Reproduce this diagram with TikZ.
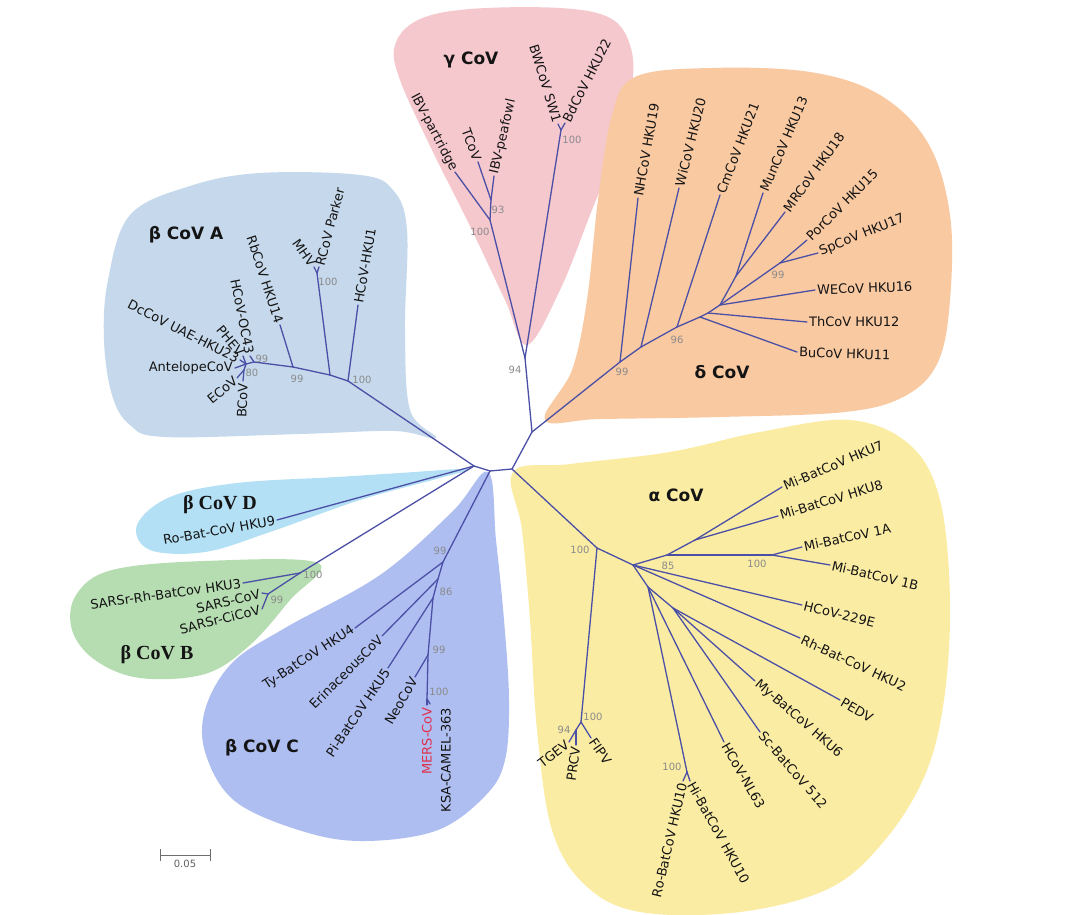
\documentclass[tikz,border=0pt]{standalone}
\usepackage{fontspec}
\setmainfont{DejaVu Sans}
\newfontfamily\serifbold{Liberation Serif}
\usepackage{tikz}
\usetikzlibrary{positioning}
\usetikzlibrary{calc}

\definecolor{fillA}{HTML}{C6D9EC}
\definecolor{fillB}{HTML}{B6DDB1}
\definecolor{fillC}{HTML}{AFBEF1}
\definecolor{fillD}{HTML}{B3E0F5}
\definecolor{fillG}{HTML}{F5C8CE}
\definecolor{fillDelta}{HTML}{F9C9A1}
\definecolor{fillAlpha}{HTML}{FBECA4}
\definecolor{tree}{HTML}{4B50A6}
\definecolor{ink}{HTML}{141414}
\definecolor{bootgray}{HTML}{8A8A8A}
\definecolor{mers}{HTML}{E0304A}

\tikzset{
  treeline/.style={draw=tree, line width=1.3pt, line cap=round},
  leaflabel/.style={inner sep=2pt, text=ink, font=\fontsize{13}{14}\selectfont},
  bootval/.style={inner sep=0pt, text=bootgray, font=\fontsize{10}{11}\selectfont},
  cladename/.style={inner sep=0pt, text=ink, font=\bfseries\fontsize{17}{19}\selectfont},
}

\begin{document}
\begin{tikzpicture}[x=1pt, y=-1pt]
    \useasboundingbox (0,0) rectangle (1080,915);
    \fill[white] (0,0) rectangle (1080,915);

    % clade backgrounds
    \fill[fillA] plot[smooth cycle, tension=0.6] coordinates {(436,438) (410,410) (405,330) (407,230) (393,190) (360,175) (260,173) (190,186) (130,215) (108,280) (104,340) (112,395) (130,425) (165,437) (300,434) (395,431)};
    \fill[fillG] plot[smooth cycle, tension=0.6] coordinates {(527,345) (505,300) (468,222) (432,150) (400,80) (395,45) (418,20) (470,9) (560,8) (610,18) (630,45) (632,85) (615,150) (590,215) (560,290)};
    \fill[fillDelta] plot[smooth cycle, tension=0.6] coordinates {(545,420) (572,370) (587,300) (598,200) (612,115) (635,77) (710,68) (810,72) (880,95) (928,143) (950,215) (950,300) (938,362) (905,396) (845,412) (720,417) (600,419)};
    \fill[fillAlpha] plot[smooth cycle, tension=0.6] coordinates {(513,472) (570,464) (670,452) (760,432) (850,420) (910,445) (940,500) (950,600) (944,700) (925,775) (885,840) (830,888) (740,912) (640,912) (585,885) (552,830) (537,730) (530,620) (522,530)};
    \fill[fillD] plot[smooth cycle, tension=0.6] coordinates {(468,469) (400,473) (337,477) (237,483) (170,497) (137,525) (150,550) (205,552) (270,532) (360,500) (440,478)};
    \fill[fillB] plot[smooth cycle, tension=0.6] coordinates {(318,563) (290,600) (250,645) (205,674) (140,678) (95,660) (72,630) (76,595) (112,570) (205,561)};
    \fill[fillC] plot[smooth cycle, tension=0.6] coordinates {(488,472) (496,540) (504,620) (509,700) (505,760) (486,795) (438,830) (366,841) (305,832) (236,802) (206,755) (205,710) (232,663) (285,628) (380,575) (452,512)};

    % inner nodes of the tree
    \foreach \n/\x/\y in {P1/474/466, P2/490/471, P3/512/469, Q/532/432,
        Gm/525/358, G1/490/220, G2/491/200, G3/561/130,
        D1/620/362, D2/641/347, D3/677/327, D4/700/317, D5/708/313, D6/720/305, D7/736/276, D9/780/263,
        Al1/597/548, Al2/581/722, Al3/576/730, Al4/633/565, Al5/667/555, Al5b/695/540, Al5c/772/555,
        Al7/648/587, Al8/687/772, Al9/673/608,
        C1/443/562, Ce/438/579, C2/433/598, C3/428/655, C4/427/699,
        B1/300/573, B2/268/594,
        A1/348/381, A2/330/375, A2b/317/273, A3/293/367, A4/254/362, A5/246/364, A6/244/370}
        \coordinate (\n) at (\x,\y);

    \foreach \a/\b in {P1/P2, P2/P3, P3/Q, Q/Gm, Gm/G1, G1/G2, Gm/G3,
        Q/D1, D1/D2, D2/D3, D3/D4, D4/D5, D5/D6, D6/D7, D6/D9,
        P3/Al1, Al1/Al2, Al2/Al3, Al1/Al4, Al4/Al5, Al5/Al5b, Al5/Al5c, Al4/Al7, Al7/Al8, Al7/Al9,
        P2/C1, C1/Ce, Ce/C2, C2/C3, C3/C4,
        P1/B1, B1/B2,
        P1/A1, A1/A2, A2/A2b, A2/A3, A3/A4, A4/A5, A5/A6}
        \draw[treeline] (\a) -- (\b);

    % leaves
    \foreach \p/\n/\x/\y/\a/\s/\t in {
        G1/lIBVpa/455/172/-62/east/IBV-partridge,
        G2/lTCoV/478/162/-70/east/TCoV,
        G2/lIBVpe/494/176/77/west/IBV-peafowl,
        G3/lBW/558/124/-73/east/BWCoV SW1,
        G3/lBd/565/123/63/west/BdCoV HKU22,
        D1/lNH/638/198/80/west/NHCoV HKU19,
        D2/lWi/679/188/76/west/WiCoV HKU20,
        D3/lCm/720/195/69/west/CmCoV HKU21,
        D7/lMun/763/193/67/west/MunCoV HKU13,
        D7/lMR/785/212/54/west/MRCoV HKU18,
        D9/lPor/807/240/45/west/PorCoV HKU15,
        D9/lSp/818/253/22/west/SpCoV HKU17,
        D6/lWE/815/290/2/west/WECoV HKU16,
        D5/lTh/807/322/0/west/ThCoV HKU12,
        D4/lBu/797/352/-2/west/BuCoV HKU11,
        Al5b/lH7/782/487/23/west/Mi-BatCoV HKU7,
        Al5b/lH8/778/516/17/west/Mi-BatCoV HKU8,
        Al5c/l1A/802/547/12/west/Mi-BatCoV 1A,
        Al5c/l1B/830/565/-13/west/Mi-BatCoV 1B,
        Al4/l229/802/605/-14/west/HCoV-229E,
        Al4/lRh/800/638/-25/west/Rh-Bat-CoV HKU2,
        Al9/lPED/840/700/-30/west/PEDV,
        Al9/lMy/755/681/-41/west/My-BatCoV HKU6,
        Al9/lSc/760/732/-49/west/Sc-BatCoV 512,
        Al7/lNL/724/742/-60/west/HCoV-NL63,
        Al8/lHi/690/781/-61/west/Hi-BatCoV HKU10,
        Al8/lRo/683/781/77/east/Ro-BatCoV HKU10,
        Al2/lFI/591/738/-55/west/FIPV,
        Al3/lPR/576/745/82/east/PRCV,
        Al3/lTG/569/742/38/east/TGEV,
        C1/lTy/355/628/33/east/Ty-BatCoV HKU4,
        Ce/lEr/382/636/45/east/ErinaceousCoV,
        C2/lPi/388/668/56/east/Pi-BatCoV HKU5,
        C3/lNeo/415/677/60/east/NeoCoV,
        C4/lMERS/427/705/90/east/{\color{mers}MERS-CoV},
        B1/lHKU3/243/583/8/east/SARSr-Rh-BatCov HKU3,
        B2/lSARS/262/593/14/east/SARS-CoV,
        B2/lCi/262/609/14/east/SARSr-CiCoV,
        P1/lHKU9/277/520/10/east/Ro-Bat-CoV HKU9,
        A1/lHKU1/358/305/80/west/HCoV-HKU1,
        A2b/lMHV/314/267/-55/east/MHV,
        A2b/lRCoV/319/267/75/west/RCoV Parker,
        A3/lRb/280/325/-72/east/RbCoV HKU14,
        A4/lOC/250/356/-79/east/HCoV-OC43,
        A5/lPH/243/356/-50/east/PHEV,
        A5/lDc/240/360/-27/east/DcCoV UAE-HKU23,
        A5/lAn/235/368/0/east/AntelopeCoV,
        A6/lEC/237/378/40/east/ECoV,
        A6/lBC/243/381/88/east/BCoV}
    {
        \coordinate (\n) at (\x,\y);
        \draw[treeline] (\p) -- (\n);
        \node[leaflabel, rotate=\a, anchor=\s] (t\n) at (\n) {\t};
    }
    \coordinate (lKSA) at (430,704);
    \draw[treeline] (C4) -- (lKSA);
    \node[leaflabel, rotate=90, anchor=east] (tlKSA) at (446,706) {KSA-CAMEL-363};

    % bootstrap values
    \foreach \x/\y/\v [count=\i] in {515/370/94, 480/232/100, 498/210/93, 572/140/100,
        622/372/99, 677/340/96, 778/275/99,
        580/550/100, 593/717/100, 564/730/94, 668/566/85, 757/564/100, 672/767/100,
        440/551/99, 446/592/86, 439/650/99, 439/692/100,
        313/575/100, 277/600/99,
        362/380/100, 328/282/100, 297/379/99, 262/359/99, 252/373/80}
        \node[bootval] (bs\i) at (\x,\y) {\v};

    % clade names
    \node[cladename] (nG) at (471,60) {γ CoV};
    \node[cladename] (nDelta) at (722,372) {δ CoV};
    \node[cladename] (nAlpha) at (676,495) {α CoV};
    \node[cladename] (nBA) at (186,235) {β CoV A};
    \node[cladename, font=\serifbold\bfseries\fontsize{20}{22}\selectfont] (nBD) at (220,505) {β CoV D};
    \node[cladename, font=\serifbold\bfseries\fontsize{20}{22}\selectfont] (nBB) at (157,655) {β CoV B};
    \node[cladename] (nBC) at (262,748) {β CoV C};

    % scale bar
    \coordinate (s0) at (160,855);
    \coordinate (s1) at (210,855);
    \draw[bootgray!80!black, line width=1pt] (s0) -- (s1);
    \draw[bootgray!80!black, line width=1pt] (s0) ++(0,-6) -- ++(0,12);
    \draw[bootgray!80!black, line width=1pt] (s1) ++(0,-6) -- ++(0,12);
    \node[bootval, below=5pt of $(s0)!0.5!(s1)$, text=bootgray!70!black] (sl) {0.05};
\end{tikzpicture}
\end{document}
